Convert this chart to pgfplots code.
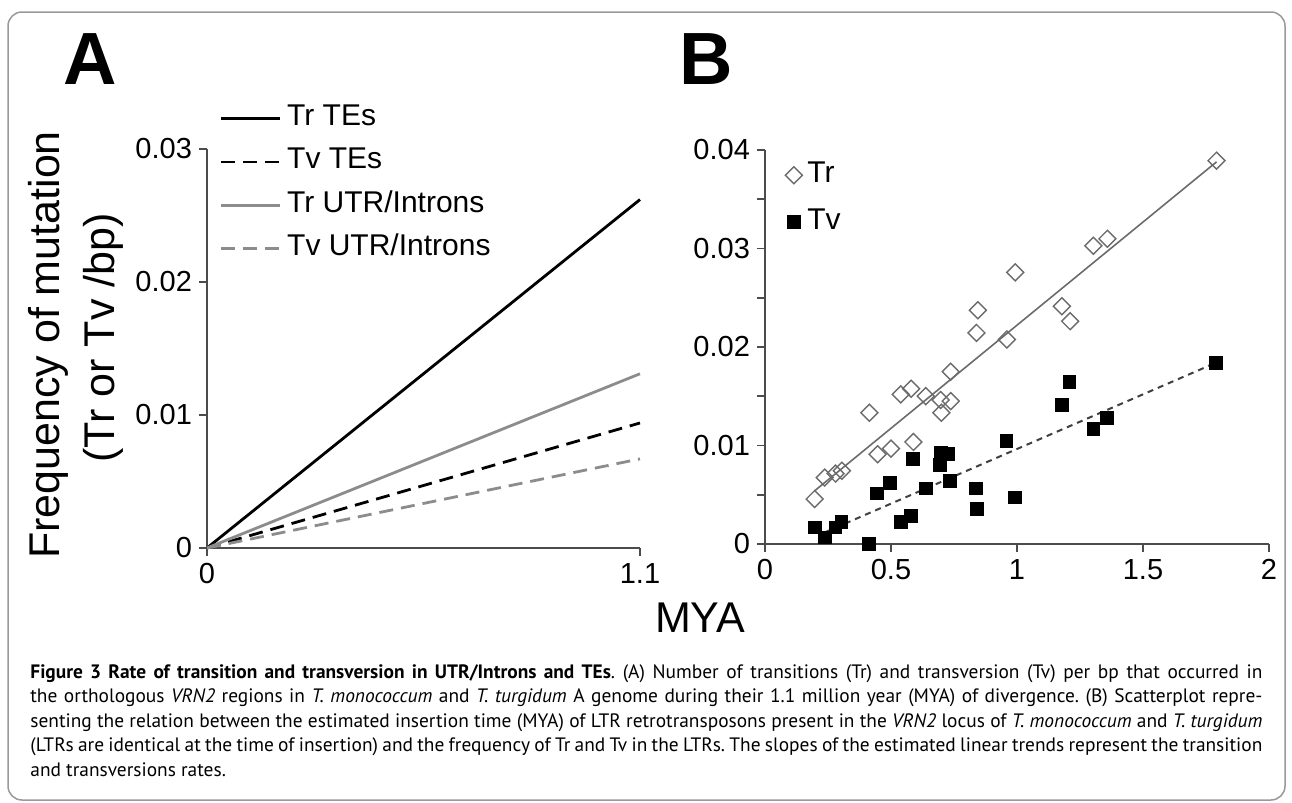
\documentclass[border=0pt]{standalone}
\usepackage{fontspec}
\setmainfont{PT Sans}
\newfontfamily\chartfont{Liberation Sans}
\usepackage{pgfplots}
\pgfplotsset{compat=1.18}

\definecolor{framegray}{gray}{0.6}
\definecolor{axisgray}{gray}{0.3}
\definecolor{linegray}{gray}{0.55}
\definecolor{markgray}{gray}{0.42}

\pgfplotsset{
  panel/.style={
    scale only axis,
    clip=false,
    axis x line*=bottom,
    axis y line*=left,
    axis line style={axisgray, line width=0.9pt},
    every tick/.style={axisgray, line width=0.9pt},
    tick align=outside,
    major tick length=4pt,
    minor tick length=4pt,
    ticklabel style={font=\chartfont\fontsize{14.5}{16}\selectfont},
    /pgf/number format/assume math mode=true,
    scaled ticks=false,
    /pgf/number format/fixed,
    /pgf/number format/precision=2,
    legend cell align=left,
  },
  lineleg/.style={legend image code/.code={\draw[##1] (0pt,0pt) -- (29.5pt,0pt);}},
  markleg/.style={legend image code/.code={\path (-4pt,0pt) (4pt,0pt); \draw[##1] plot coordinates {(0pt,0pt)};}},
}

\begin{document}
\begin{tikzpicture}
% page, frame and texts in pixel units of the reference
\begin{scope}[x=0.5pt,y=-0.5pt]
  \path[use as bounding box] (0,0) rectangle (1292,803);
  \draw[framegray, line width=0.75pt, rounded corners=7pt] (8,12) rectangle (1285,800);
  \node[font=\chartfont\bfseries\fontsize{37}{40}\selectfont, anchor=base] at (90,84) {A};
  \node[font=\chartfont\bfseries\fontsize{37}{40}\selectfont, anchor=base] at (706,84) {B};
  \node[font=\chartfont\fontsize{21.5}{24}\selectfont, rotate=90, anchor=base] at (60,345) {Frequency of mutation};
  \node[font=\chartfont\fontsize{21.5}{24}\selectfont, rotate=90, anchor=base] at (114,338) {(Tr or Tv /bp)};
  \node[font=\chartfont\fontsize{21.5}{24}\selectfont, anchor=base] at (700,632) {MYA};
  \node[anchor=north west, inner sep=0pt, text width=616pt, align=justify,
        font=\fontsize{9.7}{12.25}\selectfont\frenchspacing] at (30,664)
  {\textbf{Figure 3 Rate of transition and transversion in UTR/Introns and TEs}. (A) Number of transitions (Tr) and transversion (Tv) per bp that occurred in\linebreak
   the orthologous \textit{VRN2} regions in \textit{T. monococcum} and \textit{T. turgidum} A genome during their 1.1 million year (MYA) of divergence. (B) Scatterplot repre-\linebreak
   senting the relation between the estimated insertion time (MYA) of LTR retrotransposons present in the \textit{VRN2} locus of \textit{T. monococcum} and \textit{T. turgidum}\linebreak
   (LTRs are identical at the time of insertion) and the frequency of Tr and Tv in the LTRs. The slopes of the estimated linear trends represent the transition\linebreak
   and transversions rates.};
\end{scope}

% panel A
\begin{axis}[panel, lineleg,
  at={(103.5pt,-274pt)}, anchor=south west,
  width=216.5pt, height=199.5pt,
  xmin=0, xmax=1.1, ymin=0, ymax=0.03,
  xtick={0,1.1}, ytick={0,0.01,0.02,0.03},
  legend style={draw=none, fill=none, at={(0.0277,1.115)}, anchor=north west,
    inner sep=0pt, row sep=6.7pt, column sep=2pt,
    font=\chartfont\fontsize{15}{17}\selectfont,
    nodes={inner sep=1pt, text height=10pt, text depth=3pt, anchor=west}},
]
\addplot[black, line width=1.4pt] coordinates {(0,0) (1.1,0.0262)};
\addplot[black, line width=1.4pt, dash pattern=on 7pt off 4pt] coordinates {(0,0) (1.1,0.0094)};
\addplot[linegray, line width=1.4pt] coordinates {(0,0) (1.1,0.0131)};
\addplot[linegray, line width=1.4pt, dash pattern=on 7pt off 4pt] coordinates {(0,0) (1.1,0.0067)};
\legend{Tr TEs, Tv TEs, Tr UTR/Introns, Tv UTR/Introns}
\end{axis}

% panel B
\begin{axis}[panel,
  at={(382.5pt,-272pt)}, anchor=south west,
  width=252pt, height=197pt,
  xmin=0, xmax=2, ymin=0, ymax=0.04,
  xtick={0,0.5,1,1.5,2}, ytick={0,0.01,0.02,0.03,0.04},
  minor ytick={0.005,0.015,0.025,0.035},
  legend style={draw=none, fill=none, at={(0.0397,0.975)}, anchor=north west,
    inner sep=0pt, row sep=8.5pt, column sep=1.5pt,
    font=\chartfont\fontsize{15}{17}\selectfont,
    nodes={inner sep=1pt, text height=10pt, text depth=3pt, anchor=west}},
]
\addplot[only marks, mark=square, mark size=3pt,
  mark options={rotate=45, draw=markgray, fill=white, line width=0.7pt}, markleg]
  table {
  x y
  0.197 0.00456
  0.237 0.00675
  0.280 0.00715
  0.305 0.00743
  0.414 0.01333
  0.447 0.00911
  0.500 0.00969
  0.539 0.01519
  0.580 0.01576
  0.589 0.01036
  0.638 0.01502
  0.697 0.01462
  0.700 0.01333
  0.737 0.01451
  0.737 0.01749
  0.839 0.02143
  0.845 0.02373
  0.960 0.02076
  0.993 0.02758
  1.178 0.02414
  1.211 0.02262
  1.303 0.03028
  1.359 0.03099
  1.792 0.03892
  };
\addplot[only marks, mark=square*, mark size=3.2pt,
  mark options={draw=black, fill=black}, markleg]
  table {
  x y
  0.197 0.00169
  0.237 0.00068
  0.279 0.00169
  0.303 0.00226
  0.411 0.00000
  0.443 0.00513
  0.497 0.00624
  0.539 0.00226
  0.579 0.00287
  0.588 0.00868
  0.638 0.00564
  0.695 0.00800
  0.697 0.00928
  0.728 0.00911
  0.734 0.00641
  0.836 0.00564
  0.842 0.00354
  0.958 0.01046
  0.993 0.00473
  1.178 0.01411
  1.208 0.01644
  1.303 0.01171
  1.356 0.01283
  1.789 0.01840
  };
\legend{Tr, Tv}
% linear trends
\addplot[markgray, line width=0.8pt, forget plot] coordinates {(0.197,0.0054) (1.792,0.0388)};
\addplot[black!75, line width=1pt, dash pattern=on 3pt off 2.5pt, forget plot] coordinates {(0.237,0.00118) (1.789,0.0184)};
\end{axis}
\end{tikzpicture}
\end{document}
